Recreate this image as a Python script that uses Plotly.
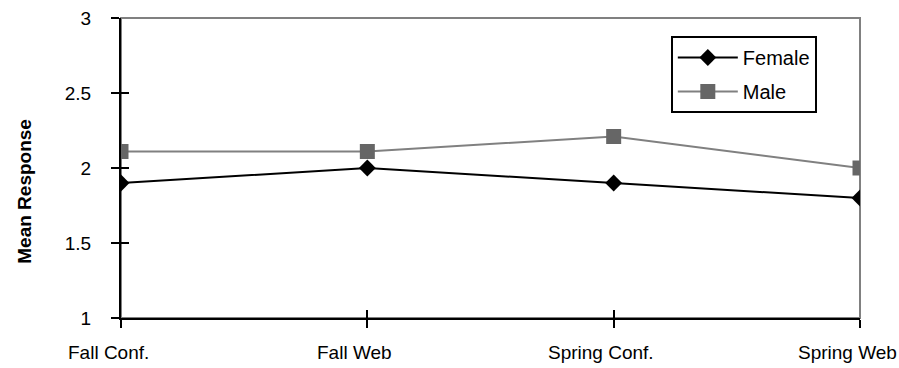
import plotly.graph_objects as go

categories = ["Fall Conf.", "Fall Web", "Spring Conf.", "Spring Web"]
female = [1.9, 2.0, 1.9, 1.8]
male = [2.11, 2.11, 2.21, 2.0]
y_ticks = [1, 1.5, 2, 2.5, 3]
y_ticktext = ["1", "1.5", "2", "2.5", "3"]
y_title = "Mean Response"

FONT = "Liberation Sans, Arial, sans-serif"
FS = 19

fig = go.Figure()
fig.add_trace(go.Scatter(
    x=categories, y=female, name="Female", mode="lines+markers",
    legendgroup="f",
    line=dict(color="#000000", width=2),
    marker=dict(symbol="diamond", size=13, color="#000000"),
))
fig.add_trace(go.Scatter(
    x=categories, y=male, name="Male", mode="lines+markers",
    legendgroup="m",
    line=dict(color="#808080", width=2),
    marker=dict(symbol="square", size=15, color="#666666"),
))
# invisible trace to activate the secondary axes (crossing tick marks)
fig.add_trace(go.Scatter(
    x=categories, y=female, xaxis="x2", yaxis="y2", mode="markers",
    marker=dict(opacity=0), showlegend=False, hoverinfo="skip",
))

annotations = []
for c in categories:
    annotations.append(dict(
        x=c, y=0, xref="x", yref="paper", text=c, showarrow=False,
        xanchor="center", yanchor="top", xshift=-13, yshift=-22,
        font=dict(family=FONT, size=FS, color="#000000"),
    ))
annotations.append(dict(
    x=-0.13, y=0.424, xref="paper", yref="paper", text="<b>" + y_title + "</b>",
    textangle=-90, showarrow=False, xanchor="center", yanchor="middle",
    font=dict(family=FONT, size=FS, color="#000000"),
))

fig.update_layout(
    width=899, height=368,
    margin=dict(l=121, r=39, t=18, b=50),
    paper_bgcolor="white", plot_bgcolor="white",
    font=dict(family=FONT, size=FS, color="#000000"),
    showlegend=True,
    legend=dict(
        x=0.744, y=0.94, xanchor="left", yanchor="top",
        bordercolor="#000000", borderwidth=2, bgcolor="white",
        font=dict(family=FONT, size=20),
        tracegroupgap=5, itemwidth=60,
    ),
    xaxis=dict(
        type="category", range=[0, 3], showgrid=False, zeroline=False,
        showline=True, linecolor="#000000", linewidth=2,
        ticks="outside", ticklen=8, tickwidth=2, tickcolor="#000000",
        showticklabels=False, automargin=False,
    ),
    yaxis=dict(
        range=[1, 3], tickvals=y_ticks, ticktext=y_ticktext,
        showgrid=False, zeroline=False,
        showline=True, linecolor="#000000", linewidth=2,
        ticks="outside", ticklen=8, tickwidth=2, tickcolor="#000000",
        tickfont=dict(family=FONT, size=FS), ticklabelstandoff=16,
        ticklabeloverflow="allow", automargin=False,
    ),
    xaxis2=dict(
        overlaying="x", matches="x", type="category", range=[0, 3],
        showgrid=False, zeroline=False, showticklabels=False,
        ticks="inside", ticklen=8, tickwidth=2, tickcolor="#000000",
        anchor="y",
    ),
    yaxis2=dict(
        overlaying="y", range=[1, 3], tickvals=y_ticks,
        showgrid=False, zeroline=False, showticklabels=False,
        ticks="inside", ticklen=8, tickwidth=2, tickcolor="#000000",
        anchor="x", side="left",
    ),
    shapes=[dict(
        type="rect", xref="paper", yref="paper", x0=0, x1=1, y0=0, y1=1,
        line=dict(color="#808080", width=2), layer="below",
    )],
    annotations=annotations,
)

fig.write_html(
    "out.html",
    config={"displayModeBar": False},
    post_script="document.body.style.margin='0';document.body.style.overflow='hidden';",
)
